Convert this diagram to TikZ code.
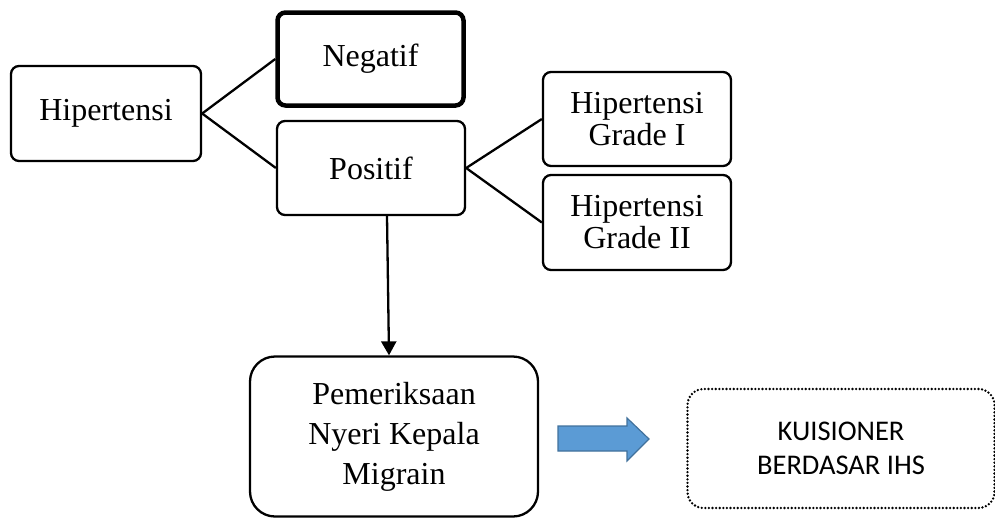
\documentclass[tikz,border=0pt]{standalone}
\usepackage{fontspec}
\setmainfont{Liberation Serif}
\newfontfamily\calib{Carlito}
\usetikzlibrary{arrows.meta}
\begin{document}
\begin{tikzpicture}[x=1pt,y=-1pt,
  box/.style={draw, line width=2.3pt, rounded corners=8pt, inner sep=0pt, align=center,
    font=\fontsize{32}{32}\selectfont},
  conn/.style={line width=2.3pt},
  arr/.style={line width=2.3pt, -{Triangle[length=14pt,width=15pt]}}]
\useasboundingbox (0,0) rectangle (995,517);
\clip (0,0) rectangle (995,517);
\node[box, minimum width=190pt, minimum height=95pt] (hip) at (106,113.5) {Hipertensi};
\node[box, line width=4.5pt, minimum width=186pt, minimum height=93pt] (neg) at (370.5,59) {Negatif};
\node[box, minimum width=188pt, minimum height=94pt] (pos) at (371,168) {Positif};
\node[box, minimum width=188pt, minimum height=94pt] (g1) at (637,119) {Hipertensi\\Grade I};
\node[box, minimum width=188pt, minimum height=95pt] (g2) at (637,222.5) {Hipertensi\\Grade II};
\node[box, rounded corners=25pt, minimum width=288pt, minimum height=160pt,
  font=\fontsize{32}{40}\selectfont] (pem) at (394,436.5) {Pemeriksaan\\Nyeri Kepala\\Migrain};
\node[draw, line width=2.6pt, dash pattern=on 0pt off 3.6pt, line cap=round, rounded corners=16pt,
  minimum width=307pt, minimum height=119pt, inner sep=0pt, align=center,
  font=\calib\fontsize{28.5}{34.5}\selectfont] (kui) at (841,448.5) {KUISIONER\\BERDASAR IHS};
\draw[conn] (hip.east) -- (neg.west);
\draw[conn] (hip.east) -- (pos.west);
\draw[conn] (pos.east) -- (g1.west);
\draw[conn] (pos.east) -- (g2.west);
\draw[arr] ([xshift=16pt]pos.south) -- ([xshift=-5pt]pem.north);
\definecolor{arrfill}{HTML}{5B9BD5}
\definecolor{arrline}{HTML}{41719C}
\draw[fill=arrfill, draw=arrline, line width=1.2pt]
  (558,426) -- (627,426) -- (627,418) -- (649,439) -- (627,461) -- (627,451) -- (558,451) -- cycle;
\end{tikzpicture}
\end{document}
